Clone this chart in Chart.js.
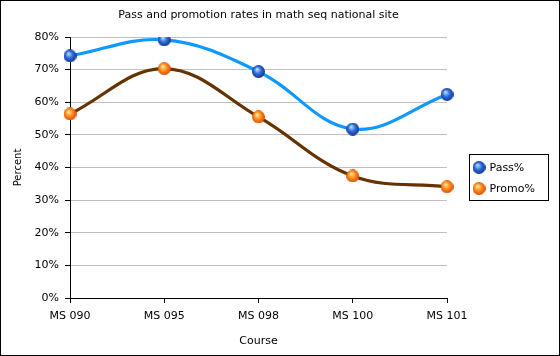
<!DOCTYPE html>
<html>
<head>
<meta charset="utf-8">
<script src="https://cdn.jsdelivr.net/npm/chart.js@4/dist/chart.umd.min.js"></script>
<style>
html,body{margin:0;padding:0;background:#fff;}
#wrap{position:relative;width:560px;height:356px;}
canvas{display:block;}
</style>
</head>
<body>
<div id="wrap"><canvas id="c" width="560" height="356"></canvas></div>
<script>
const chartTitle = "Pass and promotion rates in math seq national site";
const courses = ["MS 090", "MS 095", "MS 098", "MS 100", "MS 101"];
const passPct = [74.2, 79.1, 69.4, 51.8, 62.4];
const promoPct = [56.4, 70.3, 55.5, 37.4, 34.1];
const seriesNames = ["Pass%", "Promo%"];
const yTicks = [0, 10, 20, 30, 40, 50, 60, 70, 80];
const xTitle = "Course";
const yTitle = "Percent";

const FONT = "DejaVu Sans";
Chart.defaults.font.family = FONT;
Chart.defaults.font.size = 11;
Chart.defaults.color = "#000";

function sphere(light, mid, dark) {
  const s = 13;
  const cv = document.createElement("canvas");
  cv.width = s; cv.height = s;
  const g = cv.getContext("2d");
  const grad = g.createRadialGradient(s*0.38, s*0.32, 0.5, s*0.5, s*0.5, s*0.55);
  grad.addColorStop(0, light);
  grad.addColorStop(0.45, mid);
  grad.addColorStop(1, dark);
  g.fillStyle = grad;
  g.beginPath();
  g.arc(s/2, s/2, s/2, 0, Math.PI*2);
  g.fill();
  return cv;
}
const blueBall = sphere("#b8dcff", "#2f6fe0", "#0a2a7a");
const orangeBall = sphere("#ffe49a", "#ff9020", "#d04000");

const framePlugin = {
  id: "frame",
  afterDraw(chart) {
    const ctx = chart.ctx;
    const a = chart.chartArea;
    ctx.save();
    // title
    ctx.fillStyle = "#000";
    ctx.font = "11px '" + FONT + "'";
    ctx.textAlign = "center";
    ctx.textBaseline = "middle";
    ctx.fillText(chartTitle, (a.left + a.right) / 2, 15);
    // legend
    const lx = 469.5, ly = 154.5, lw = 79, lh = 46;
    ctx.strokeStyle = "#000";
    ctx.lineWidth = 1;
    ctx.strokeRect(lx, ly, lw, lh);
    const balls = [blueBall, orangeBall];
    ctx.textAlign = "left";
    seriesNames.forEach((n, i) => {
      const cy = ly + 13 + i * 21;
      ctx.drawImage(balls[i], lx + 3, cy - 6.5);
      ctx.fillText(n, lx + 20, cy + 0.5);
    });
    // outer border
    ctx.strokeRect(0.5, 0.5, 559, 355);
    ctx.restore();
  }
};

new Chart(document.getElementById("c"), {
  type: "line",
  data: {
    labels: courses,
    datasets: [
      {
        label: seriesNames[0],
        data: passPct,
        borderColor: "#0f99ff",
        borderWidth: 3.2,
        tension: 0.38,
        pointStyle: blueBall,
        pointRadius: 6,
        fill: false
      },
      {
        label: seriesNames[1],
        data: promoPct,
        borderColor: "#663300",
        borderWidth: 3.2,
        tension: 0.38,
        pointStyle: orangeBall,
        pointRadius: 6,
        fill: false
      }
    ]
  },
  options: {
    responsive: false,
    animation: false,
    devicePixelRatio: 1,
    layout: { padding: { top: 37, right: 113, bottom: 0, left: 0 } },
    plugins: {
      legend: { display: false },
      title: { display: false },
      tooltip: { enabled: false }
    },
    scales: {
      x: {
        offset: false,
        grid: { drawOnChartArea: false, drawTicks: true, tickLength: 5, tickColor: "#000" },
        border: { color: "#000", width: 1 },
        ticks: { padding: 7, maxRotation: 0, autoSkip: false, font: { size: 11 } },
        title: { display: true, text: xTitle, font: { size: 11 }, padding: { top: 6, bottom: 8 } },
        afterFit(s) { s.height = 58; }
      },
      y: {
        min: 0, max: 80,
        afterBuildTicks(s) { s.ticks = yTicks.map(v => ({ value: v })); },
        grid: { color: "#c0c0c0", drawTicks: true, tickLength: 5, tickColor: "#000" },
        border: { color: "#000", width: 1 },
        ticks: { padding: 6, callback: v => v + "%", font: { size: 11 } },
        title: { display: true, text: yTitle, font: { size: 10 }, padding: { top: 12, bottom: 4 } },
        afterFit(s) { s.width = 70; }
      }
    }
  },
  plugins: [framePlugin]
});
</script>
</body>
</html>
